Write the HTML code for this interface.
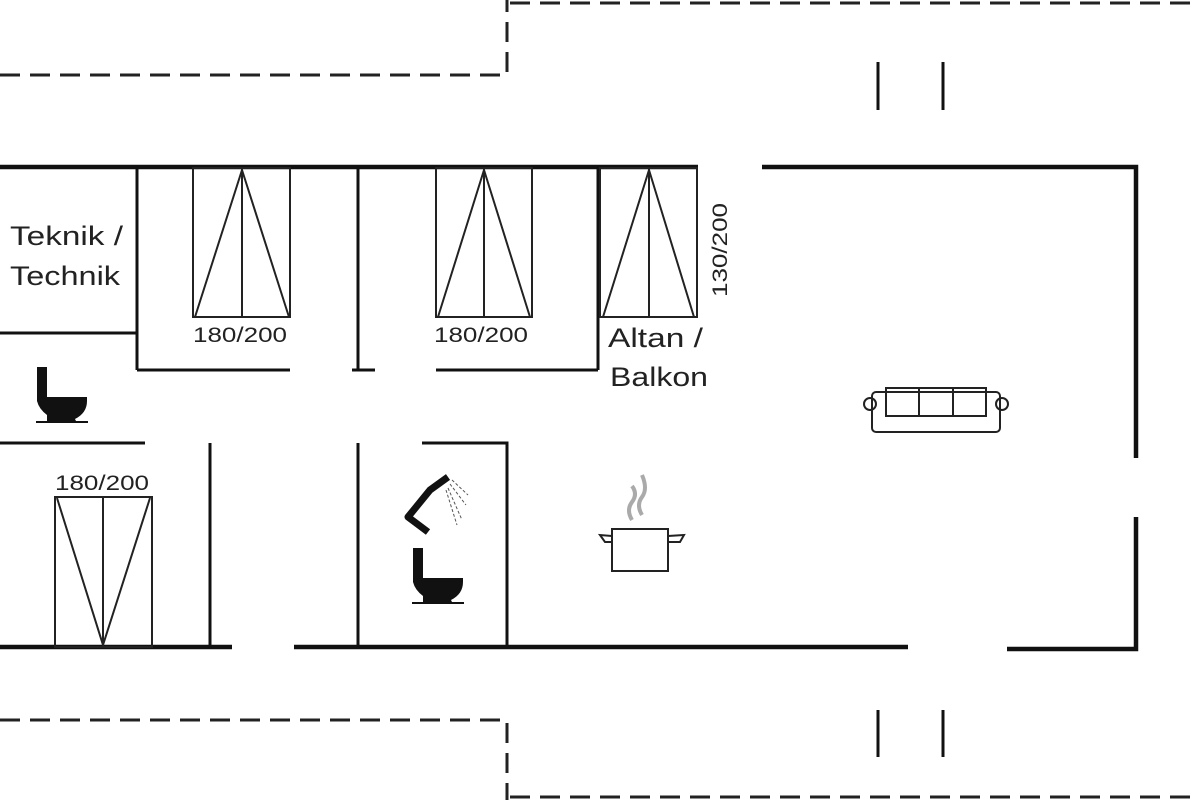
<!DOCTYPE html>
<html><head><meta charset="utf-8"><style>body{margin:0;background:#fff}svg{display:block}text{font-family:"Liberation Sans",sans-serif;fill:#222}</style></head><body>
<svg width="1200" height="800" viewBox="0 0 1200 800" xmlns="http://www.w3.org/2000/svg">
<g stroke="#222" stroke-width="3" fill="none" stroke-dasharray="20 10">
<path d="M0 75 H507 V0"/><path d="M510 3 H1200"/>
<path d="M0 720 H507 V800"/><path d="M510 797 H1200"/>
</g>
<g stroke="#111" stroke-width="3" fill="none">
<path d="M878 62V110M943 62V110M878 710V757M943 710V757"/>
</g>
<g stroke="#111" stroke-width="4.5" fill="none">
<path d="M0 167H698M762 167H1136V458M1136 517V649H1007M908 647H294M232 647H0"/>
</g>
<g stroke="#111" stroke-width="3" fill="none">
<path d="M0 333H137M137 167V370M137 370H290M358 167V370M352 370H375M436 370H598M598 167V370"/>
<path d="M0 443H145M210 443V647M358 443V647M422 443H507V647"/>
</g>
<g stroke="#222" stroke-width="2" fill="none">
<rect x="193" y="168" width="97" height="149"/><path d="M242 168V317M242 170L195 317M242 170L289 317"/>
<rect x="436" y="168" width="96" height="149"/><path d="M484 168V317M484 170L438 317M484 170L530 317"/>
<rect x="600" y="168" width="97" height="149"/><path d="M649 168V317M649 170L603 317M649 170L694 317"/>
<rect x="55" y="497" width="97" height="150"/><path d="M103 497V647M57 498L103 645M150 498L103 645"/>
</g>
<text x="10" y="245" font-size="27" textLength="113" lengthAdjust="spacingAndGlyphs">Teknik /</text>
<text x="10" y="285" font-size="27" textLength="110" lengthAdjust="spacingAndGlyphs">Technik</text>
<text x="193" y="342" font-size="21" textLength="94" lengthAdjust="spacingAndGlyphs">180/200</text>
<text x="434" y="342" font-size="21" textLength="94" lengthAdjust="spacingAndGlyphs">180/200</text>
<text x="55" y="490" font-size="21" textLength="94" lengthAdjust="spacingAndGlyphs">180/200</text>
<text x="608" y="347" font-size="27" textLength="95" lengthAdjust="spacingAndGlyphs">Altan /</text>
<text x="610" y="386" font-size="27" textLength="98" lengthAdjust="spacingAndGlyphs">Balkon</text>
<text transform="translate(727,250) rotate(-90)" font-size="21" text-anchor="middle" textLength="94" lengthAdjust="spacingAndGlyphs">130/200</text>
<g fill="#111">
<path d="M37 367h10v30h40v4q0 12-12 18l2 4h-30v-8q-8-6-10-14z"/><rect x="36" y="421" width="52" height="2"/>
<path d="M413 548h10v30h40v4q0 12-12 18l2 4h-30v-8q-8-6-10-14z"/><rect x="412" y="602" width="52" height="2"/>
</g>
<path d="M448 477L430 490 408 517 428 532" stroke="#111" stroke-width="7" fill="none" stroke-linejoin="round"/>
<g stroke="#555" stroke-width="1" stroke-dasharray="3 2"><path d="M452 480L468 495M450 484L466 505M448 488L462 520M446 490L457 525"/></g>
<g stroke="#222" stroke-width="2" fill="none">
<rect x="612" y="529" width="56" height="42"/><path d="M612 536L600 535 605 542 612 542M668 536L684 535 680 542 668 542"/>
</g>
<path d="M632 520q-6-10 0-18t0-16M642 515q-6-10 0-18t0-22" stroke="#aaa" stroke-width="4" fill="none"/>
<g stroke="#222" stroke-width="2" fill="none">
<rect x="872" y="392" width="128" height="40" rx="4"/><rect x="886" y="388" width="100" height="28"/><path d="M919 388V416M953 388V416"/>
<circle cx="870" cy="404" r="6"/><circle cx="1002" cy="404" r="6"/>
</g>
</svg>
</body></html>
